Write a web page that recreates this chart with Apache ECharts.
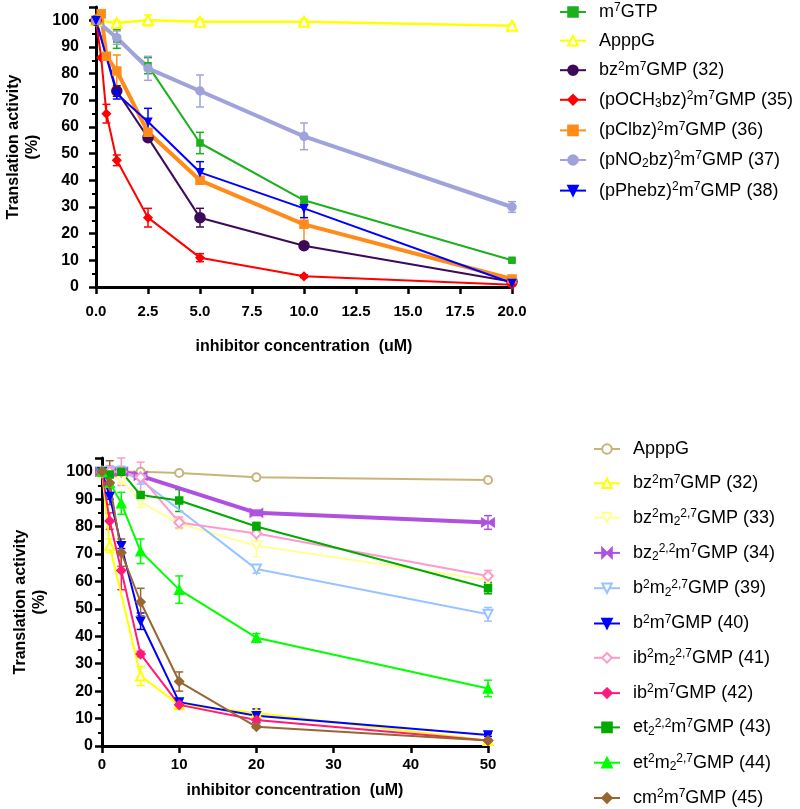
<!DOCTYPE html>
<html>
<head>
<meta charset="utf-8">
<title>Translation activity</title>
<script src="https://cdn.jsdelivr.net/npm/echarts@6/dist/echarts.min.js"></script>
<style>
  html, body { margin: 0; padding: 0; background: #fff; }
  #main { width: 800px; height: 809px; }
</style>
</head>
<body>
<div id="main"></div>
<script>
// ---- top chart data (x = uM, y = % activity, e = +/- error) ----
var topXTicks = ['0.0', '2.5', '5.0', '7.5', '10.0', '12.5', '15.0', '17.5', '20.0'];

var m7gtpX = [0, 1, 2.5, 5, 10, 20];
var m7gtpY = [100, 93, 83, 54, 32.5, 10];
var m7gtpE = [0, 3.5, 3, 4, 1.5, 0.5];

var apppgTopX = [0, 1, 2.5, 5, 10, 20];
var apppgTopY = [100, 99, 100, 99.5, 99.5, 98];
var apppgTopE = [0, 1, 2, 1, 1, 0.5];

var c32TopX = [0, 1, 2.5, 5, 10, 20];
var c32TopY = [100, 73.5, 56, 26, 15.5, 2];
var c32TopE = [0, 2, 0, 3.5, 1, 0.5];

var c35X = [0, 0.25, 0.5, 1, 2.5, 5, 10, 20];
var c35Y = [100, 86, 65, 47.5, 26, 11, 4, 0.8];
var c35E = [0, 0, 3.5, 2, 3.5, 1.5, 0.5, 0.3];

var c36X = [0, 0.25, 0.5, 1, 2.5, 5, 10, 20];
var c36Y = [100, 102.5, 86.5, 81, 58, 40, 23.5, 3];
var c36E = [0, 1.5, 1, 6, 3, 1, 8, 0.5];

var c37X = [0, 1, 2.5, 5, 10, 20];
var c37Y = [100, 93.5, 82, 73.5, 56.5, 30];
var c37E = [0, 2.5, 4.5, 6, 5, 2];

var c38X = [0, 1, 2.5, 5, 10, 20];
var c38Y = [100, 72.5, 62, 43, 29.5, 1.5];
var c38E = [0, 2, 5, 4, 3.5, 0.5];

// ---- bottom chart data ----
var botXTicks = ['0', '10', '20', '30', '40', '50'];

var apppgBotX = [0, 1, 2.5, 5, 10, 20, 50];
var apppgBotY = [100, 100, 100, 100, 99.5, 98, 97];
var apppgBotE = [0, 0, 0, 0.5, 0.5, 0.5, 0.5];

var c32BotX = [0, 1, 5, 10, 20, 50];
var c32BotY = [100, 73, 25.5, 15, 12, 2];
var c32BotE = [0, 2.5, 3.5, 1, 1, 0.5];

var c33X = [0, 2.5, 5, 10, 20, 50];
var c33Y = [100, 97, 89, 81, 73, 60.5];
var c33E = [0, 1, 2, 2, 4, 2];

var c34X = [0, 1, 2.5, 5, 20, 50];
var c34Y = [100, 100, 100, 98.5, 85, 81.5];
var c34E = [0, 2, 1.5, 1, 1, 2.5];

var c39X = [0, 1, 2.5, 5, 20, 50];
var c39Y = [100, 100, 100, 97, 64.5, 48];
var c39E = [0, 1, 2, 1.5, 1.5, 2.5];

var c40X = [0, 1, 2.5, 5, 10, 20, 50];
var c40Y = [100, 91, 73, 45.5, 16, 11, 4];
var c40E = [0, 1, 1, 3, 1, 2.5, 0.5];

var c41X = [0, 1, 2.5, 5, 10, 20, 50];
var c41Y = [100, 100, 100, 98, 81.5, 77.5, 62];
var c41E = [0, 2, 5, 5.5, 2, 4, 2];

var c42X = [0, 1, 2.5, 5, 10, 20, 50];
var c42Y = [100, 82, 64, 33.5, 15, 9.5, 2];
var c42E = [0, 3, 7, 1, 1, 1, 0.5];

var c43X = [0, 1, 2.5, 5, 10, 20, 50];
var c43Y = [100, 99, 100, 91.5, 89.5, 80, 57.5];
var c43E = [0, 1, 1, 1, 4, 1.5, 2];

var c44X = [0, 1, 2.5, 5, 10, 20, 50];
var c44Y = [100, 96, 88.5, 71, 57, 39.5, 21];
var c44E = [0, 2, 4, 4.5, 5, 1.5, 3];

var c45X = [0, 1, 2.5, 5, 10, 20, 50];
var c45Y = [100, 96, 70.5, 52.5, 23.5, 7, 2];
var c45E = [0, 8, 5, 5, 3.5, 0.5, 0.5];

window.onload = function() {
  var chart = echarts.init(document.getElementById('main'));
  var FONT = 'Liberation Sans, Arial, sans-serif';

  // legend label markup: ^{..} superscript, _{..} subscript
  function richName(name) {
    var s = name.replace(/^(top|bot):/, '');
    var out = '{sp| }';
    var re = /(\^\{[^}]*\}|_\{[^}]*\})/g;
    var parts = s.split(re);
    for (var i = 0; i < parts.length; i++) {
      var p = parts[i];
      if (!p) continue;
      if (p.charAt(0) === '^') out += '{sup|' + p.slice(2, -1) + '}';
      else if (p.charAt(0) === '_') out += '{sub|' + p.slice(2, -1) + '}';
      else out += '{n|' + p + '}';
    }
    return out;
  }

  function zip(xs, ys) {
    var r = [];
    for (var i = 0; i < xs.length; i++) r.push([xs[i], ys[i]]);
    return r;
  }
  function zip3(xs, ys, es) {
    var r = [];
    for (var i = 0; i < xs.length; i++) r.push([xs[i], ys[i], es[i]]);
    return r;
  }

  // error bars (vertical line + caps)
  function errRender(params, api) {
    var x = api.value(0), y = api.value(1), e = api.value(2);
    if (!e) return null;
    var hi = api.coord([x, y + e]);
    var lo = api.coord([x, y - e]);
    var w = 4;
    var st = { stroke: api.visual('color'), lineWidth: 1.5 };
    return {
      type: 'group',
      children: [
        { type: 'line', shape: { x1: hi[0], y1: hi[1], x2: lo[0], y2: lo[1] }, style: st },
        { type: 'line', shape: { x1: hi[0] - w, y1: hi[1], x2: hi[0] + w, y2: hi[1] }, style: st },
        { type: 'line', shape: { x1: lo[0] - w, y1: lo[1], x2: lo[0] + w, y2: lo[1] }, style: st }
      ]
    };
  }

  var series = [];
  var legendTop = [];
  var legendBot = [];

  function add(idx, name, xs, ys, es, color, symbol, size, lw, rotate) {
    var full = (idx === 0 ? 'top:' : 'bot:') + name;
    (idx === 0 ? legendTop : legendBot).push(full);
    series.push({
      type: 'custom',
      name: full + ' err',
      xAxisIndex: idx,
      yAxisIndex: idx,
      renderItem: errRender,
      itemStyle: { color: color },
      data: zip3(xs, ys, es),
      z: 2,
      silent: true
    });
    series.push({
      type: 'line',
      name: full,
      xAxisIndex: idx,
      yAxisIndex: idx,
      data: zip(xs, ys),
      symbol: symbol,
      symbolSize: size,
      symbolRotate: rotate || 0,
      showAllSymbol: true,
      color: color,
      lineStyle: { color: color, width: lw },
      itemStyle: { color: color, borderColor: color, borderWidth: 1.5 },
      z: 3,
      animation: false
    });
  }

  var bowtie = 'path://M0,0L10,6L0,12Z M20,0L10,6L20,12Z';

  add(0, 'm^{7}GTP', m7gtpX, m7gtpY, m7gtpE, '#1db01d', 'rect', 6, 2);
  add(0, 'ApppG', apppgTopX, apppgTopY, apppgTopE, '#ffff00', 'emptyTriangle', 10, 2.5);
  add(0, 'bz^{2}m^{7}GMP (32)', c32TopX, c32TopY, c32TopE, '#3d0a5a', 'circle', 10, 2);
  add(0, '(pOCH_{3}bz)^{2}m^{7}GMP (35)', c35X, c35Y, c35E, '#ff0000', 'diamond', 8, 2);
  add(0, '(pClbz)^{2}m^{7}GMP (36)', c36X, c36Y, c36E, '#ff8c1a', 'rect', 8, 4);
  add(0, '(pNO_{2}bz)^{2}m^{7}GMP (37)', c37X, c37Y, c37E, '#a0a2dc', 'circle', 8, 4);
  add(0, '(pPhebz)^{2}m^{7}GMP (38)', c38X, c38Y, c38E, '#0000ff', 'triangle', 7, 2, 180);

  add(1, 'ApppG', apppgBotX, apppgBotY, apppgBotE, '#c8b47a', 'emptyCircle', 8, 2);
  add(1, 'bz^{2}m^{7}GMP (32)', c32BotX, c32BotY, c32BotE, '#ffff00', 'emptyTriangle', 9, 2);
  add(1, 'bz^{2}m_{2}^{2,7}GMP (33)', c33X, c33Y, c33E, '#ffff99', 'emptyTriangle', 9, 2, 180);
  add(1, 'bz_{2}^{2,2}m^{7}GMP (34)', c34X, c34Y, c34E, '#b050e0', bowtie, [12, 8], 4);
  add(1, 'b^{2}m_{2}^{2,7}GMP (39)', c39X, c39Y, c39E, '#99c4ff', 'emptyTriangle', 9, 2, 180);
  add(1, 'b^{2}m^{7}GMP (40)', c40X, c40Y, c40E, '#0000ff', 'triangle', 8, 2, 180);
  add(1, 'ib^{2}m_{2}^{2,7}GMP (41)', c41X, c41Y, c41E, '#ff99cc', 'emptyDiamond', 10, 2);
  add(1, 'ib^{2}m^{7}GMP (42)', c42X, c42Y, c42E, '#ff1a7a', 'diamond', 9, 2);
  add(1, 'et_{2}^{2,2}m^{7}GMP (43)', c43X, c43Y, c43E, '#00aa00', 'rect', 7, 2);
  add(1, 'et^{2}m_{2}^{2,7}GMP (44)', c44X, c44Y, c44E, '#00ff00', 'triangle', 9, 2);
  add(1, 'cm^{2}m^{7}GMP (45)', c45X, c45Y, c45E, '#996633', 'diamond', 9, 2);

  var rich = {
    sp: { width: 8, lineHeight: 20 },
    n: { fontFamily: FONT, fontSize: 18, color: '#000', lineHeight: 20, verticalAlign: 'middle' },
    sup: { fontFamily: FONT, fontSize: 12, color: '#000', lineHeight: 10, verticalAlign: 'top' },
    sub: { fontFamily: FONT, fontSize: 12, color: '#000', lineHeight: 10, verticalAlign: 'bottom' }
  };

  function xAxisOf(idx, min, max, interval, ticks, margin, gap) {
    return {
      type: 'value',
      gridIndex: idx,
      min: min, max: max, interval: interval,
      name: 'inhibitor concentration  (uM)',
      nameLocation: 'middle',
      nameGap: gap,
      nameMoveOverlap: false,
      nameTextStyle: { fontFamily: FONT, fontSize: 16, fontWeight: 'bold', color: '#000' },
      splitLine: { show: false },
      axisLine: { onZero: false, lineStyle: { color: '#000', width: 3 } },
      axisTick: { show: true, length: 7, lineStyle: { color: '#000', width: 2.5 } },
      axisLabel: {
        margin: margin,
        fontFamily: FONT, fontSize: 15, fontWeight: 'bold', color: '#000',
        formatter: function(v) {
          var i = Math.round((v - min) / interval);
          return ticks[i] !== undefined ? ticks[i] : '';
        }
      }
    };
  }

  function yAxisOf(idx, margin, gap) {
    return {
      type: 'value',
      gridIndex: idx,
      min: 0, max: 105, interval: 10,
      name: 'Translation activity\n(%)',
      nameLocation: 'middle',
      nameGap: gap,
      nameMoveOverlap: false,
      nameRotate: 90,
      nameTextStyle: { fontFamily: FONT, fontSize: 16, fontWeight: 'bold', color: '#000', lineHeight: 19 },
      splitLine: { show: false },
      axisLine: { onZero: false, lineStyle: { color: '#000', width: 3 } },
      axisTick: { show: true, length: 7, lineStyle: { color: '#000', width: 2.5 } },
      minorTick: { show: true, splitNumber: 2, length: 4, lineStyle: { color: '#000', width: 2 } },
      axisLabel: {
        margin: margin, showMaxLabel: false,
        fontFamily: FONT, fontSize: 16, fontWeight: 'bold', color: '#000'
      }
    };
  }

  var option = {
    backgroundColor: '#fff',
    animation: false,
    grid: [
      { left: 96, top: 7, width: 416, height: 280, containLabel: false, outerBoundsMode: 'none' },
      { left: 102, top: 458, width: 386, height: 288, containLabel: false, outerBoundsMode: 'none' }
    ],
    xAxis: [
      xAxisOf(0, 0, 20, 2.5, topXTicks, 17, 52),
      xAxisOf(1, 0, 50, 10, botXTicks, 11, 37)
    ],
    yAxis: [
      yAxisOf(0, 17, 54),
      yAxisOf(1, 9, 53)
    ],
    legend: [
      {
        orient: 'vertical', left: 559, top: 2, itemGap: 10.6, padding: 0,
        itemWidth: 26, itemHeight: 12, selectedMode: false,
        data: legendTop,
        formatter: richName,
        textStyle: { rich: rich }
      },
      {
        orient: 'vertical', left: 593, top: 440, itemGap: 15.3, padding: 0,
        itemWidth: 26, itemHeight: 12, selectedMode: false,
        data: legendBot,
        formatter: richName,
        textStyle: { rich: rich }
      }
    ],
    series: series
  };
  option && chart.setOption(option);
};
</script>
</body>
</html>
